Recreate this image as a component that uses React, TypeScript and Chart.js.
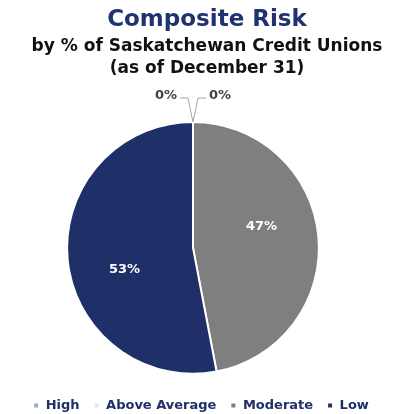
import React, { useEffect, useRef } from "react";
import { Chart, registerables } from "chart.js";

Chart.register(...registerables);

const categories = ["High", "Above Average", "Moderate", "Low"];
const values = [0, 0, 47, 53];
const colors = ["#8FAADC", "#DDEBF7", "#7F7F7F", "#1F3068"];
const titleText = "Composite Risk";
const subtitleLines = ["by % of Saskatchewan Credit Unions", "(as of December 31)"];

const FONT = "'DejaVu Sans', Verdana, sans-serif";

const labelPlugin = {
  id: "pieLabels",
  afterDatasetsDraw(chart: any) {
    const ctx = chart.ctx;
    const meta = chart.getDatasetMeta(0);
    const data = chart.data.datasets[0].data as number[];
    let zeroIdx = 0;
    ctx.save();
    ctx.font = `bold 13px ${FONT}`;
    ctx.textBaseline = "middle";
    meta.data.forEach((arc: any, i: number) => {
      const v = data[i];
      const { x, y, startAngle, endAngle, outerRadius } = arc.getProps(
        ["x", "y", "startAngle", "endAngle", "outerRadius"],
        true
      );
      const text = `${v}%`;
      if (v === 0) {
        const side = zeroIdx === 0 ? -1 : 1;
        zeroIdx++;
        const a = startAngle;
        const px = x + Math.cos(a) * outerRadius;
        const py = y + Math.sin(a) * outerRadius;
        const ey = py - 24;
        const ex = px + side * 5;
        const hx = ex + side * 8;
        ctx.strokeStyle = "#A6A6A6";
        ctx.lineWidth = 1;
        ctx.beginPath();
        ctx.moveTo(px, py);
        ctx.lineTo(ex, ey);
        ctx.lineTo(hx, ey);
        ctx.stroke();
        ctx.fillStyle = "#404040";
        ctx.textAlign = side < 0 ? "right" : "left";
        ctx.fillText(text, hx + side * 3, ey - 2);
      } else {
        const mid = (startAngle + endAngle) / 2 - (12 * Math.PI) / 180;
        const r = outerRadius * 0.57;
        ctx.fillStyle = "#FFFFFF";
        ctx.textAlign = "center";
        ctx.fillText(text, x + Math.cos(mid) * r, y + Math.sin(mid) * r);
      }
    });
    ctx.restore();
  },
};

// The pie sits left of the page centre in the reference, while the titles and
// legend are (nearly) centred: nudge those boxes right after layout.
const boxShift = {
  id: "boxShift",
  afterLayout(chart: any) {
    chart.boxes.forEach((b: any) => {
      if (b === chart.legend) {
        b.left += 8;
        b.right += 8;
      } else if (b.options && b.options.text !== undefined && b.options.display) {
        b.left += 14;
        b.right += 14;
      }
    });
  },
};

export default function App() {
  const ref = useRef<HTMLCanvasElement>(null);
  useEffect(() => {
    if (!ref.current) return;
    const chart = new Chart(ref.current, {
      type: "pie",
      data: {
        labels: categories,
        datasets: [
          {
            data: values,
            backgroundColor: colors,
            borderColor: "#FFFFFF",
            borderWidth: 2,
            radius: "92.5%",
          },
        ],
      },
      options: {
        responsive: false,
        animation: false,
        layout: { padding: { left: 4, right: 31, top: 0, bottom: -8 } },
        plugins: {
          title: {
            display: true,
            text: titleText,
            color: "#1F3370",
            font: { family: FONT, size: 23, weight: "bold", lineHeight: 1.2 },
            padding: { top: 6, bottom: 0 },
          },
          subtitle: {
            display: true,
            text: subtitleLines,
            color: "#111111",
            font: { family: FONT, size: 17, weight: "bold", lineHeight: 1.3 },
            padding: { top: 2, bottom: 31 },
          },
          legend: {
            position: "bottom",
            labels: {
              boxWidth: 6,
              boxHeight: 6,
              padding: 14,
              color: "#1F3068",
              font: { family: FONT, size: 13, weight: "bold" },
            },
          },
          tooltip: { enabled: false },
        },
      },
      plugins: [labelPlugin, boxShift],
    });
    return () => chart.destroy();
  }, []);
  return (
    <div style={{ position: "fixed", left: 0, top: 0, width: 413, height: 414, background: "#fff" }}>
      <canvas ref={ref} width={413} height={414} />
    </div>
  );
}
